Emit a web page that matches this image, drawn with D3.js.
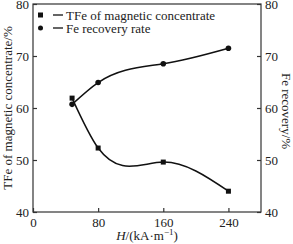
<!DOCTYPE html>
<html>
<head>
  <script src="https://cdnjs.cloudflare.com/ajax/libs/d3/7.8.5/d3.min.js"></script>
  <style>
    body { margin: 0; background: #fff; }
    text { font-family: "Liberation Serif", "DejaVu Serif", serif; }
  </style>
</head>
<body>
  <svg></svg>
  <script>
    // data
    var fields = [48, 80, 160, 240];
    var tfe = [61.9, 52.3, 49.6, 44.0];
    var recovery = [60.7, 64.9, 68.5, 71.5];
    var xTicks = [0, 80, 160, 240];
    var yTicks = [40, 50, 60, 70, 80];

    var W = 293, H = 244, fs = 13;
    var svg = d3.select("svg").attr("width", W).attr("height", H);

    var margin = { top: 4, right: 32, bottom: 32, left: 33 };
    var width = W - margin.left - margin.right;
    var height = H - margin.top - margin.bottom;

    var x = d3.scaleLinear().domain([0, 280]).range([0, width]);
    var yL = d3.scaleLinear().domain([40, 80]).range([height, 0]);
    var yR = d3.scaleLinear().domain([40, 80]).range([height, 0]);

    var g = svg.append("g").attr("transform", "translate(" + margin.left + "," + margin.top + ")");

    // frame
    g.append("rect").attr("width", width).attr("height", height)
      .attr("fill", "none").attr("stroke", "#333").attr("stroke-width", 1.2);

    function styleAxis(sel) {
      sel.select(".domain").remove();
      sel.selectAll("line").attr("stroke", "#333").attr("stroke-width", 1.2);
      sel.selectAll("text").attr("font-size", fs).attr("fill", "#222")
        .style("font-family", "'Liberation Serif', serif");
    }

    g.append("g").attr("transform", "translate(0," + height + ")")
      .call(d3.axisBottom(x).tickValues(xTicks).tickSizeInner(-4).tickSizeOuter(0).tickPadding(6))
      .call(styleAxis);
    g.append("g")
      .call(d3.axisLeft(yL).tickValues(yTicks).tickSizeInner(-4).tickSizeOuter(0).tickPadding(4))
      .call(styleAxis);
    g.append("g").attr("transform", "translate(" + width + ",0)")
      .call(d3.axisRight(yR).tickValues(yTicks).tickSizeInner(-4).tickSizeOuter(0).tickPadding(4))
      .call(styleAxis);

    // natural cubic spline y(x), drawn as one bezier per interval
    function splinePath(xs, ys, sx, sy) {
      var n = xs.length, h = [], M = new Array(n).fill(0);
      for (var i = 0; i < n - 1; i++) h[i] = xs[i + 1] - xs[i];
      var cp = [], rp = [];
      for (var i = 1; i < n - 1; i++) {
        var a = h[i - 1], b = 2 * (h[i - 1] + h[i]), c = h[i];
        var r = 6 * ((ys[i + 1] - ys[i]) / h[i] - (ys[i] - ys[i - 1]) / h[i - 1]);
        var den = b - (i > 1 ? a * cp[i - 1] : 0);
        cp[i] = c / den;
        rp[i] = (r - (i > 1 ? a * rp[i - 1] : 0)) / den;
      }
      for (var i = n - 2; i >= 1; i--) M[i] = rp[i] - cp[i] * (i < n - 2 ? M[i + 1] : 0);
      var p = d3.path();
      p.moveTo(sx(xs[0]), sy(ys[0]));
      for (var i = 0; i < n - 1; i++) {
        var d = (ys[i + 1] - ys[i]) / h[i];
        var s0 = d - h[i] * (2 * M[i] + M[i + 1]) / 6;
        var s1 = d + h[i] * (M[i] + 2 * M[i + 1]) / 6;
        p.bezierCurveTo(
          sx(xs[i] + h[i] / 3), sy(ys[i] + s0 * h[i] / 3),
          sx(xs[i + 1] - h[i] / 3), sy(ys[i + 1] - s1 * h[i] / 3),
          sx(xs[i + 1]), sy(ys[i + 1]));
      }
      return p.toString();
    }

    g.append("path").attr("d", splinePath(fields, tfe, x, yL))
      .attr("fill", "none").attr("stroke", "#111").attr("stroke-width", 1.5);
    g.append("path").attr("d", splinePath(fields, recovery, x, yR))
      .attr("fill", "none").attr("stroke", "#111").attr("stroke-width", 1.5);

    var tfeData = fields.map(function(f, i) { return [f, tfe[i]]; });
    var recData = fields.map(function(f, i) { return [f, recovery[i]]; });

    g.selectAll("rect.pt").data(tfeData).enter().append("rect").attr("class", "pt")
      .attr("x", function(d) { return x(d[0]) - 2.5; })
      .attr("y", function(d) { return yL(d[1]) - 2.5; })
      .attr("width", 5).attr("height", 5).attr("fill", "#111");
    g.selectAll("circle.pt").data(recData).enter().append("circle").attr("class", "pt")
      .attr("cx", function(d) { return x(d[0]); })
      .attr("cy", function(d) { return yR(d[1]); })
      .attr("r", 2.8).attr("fill", "#111");

    // legend
    var leg = g.append("g").attr("transform", "translate(5,11)");
    leg.append("rect").attr("x", 0).attr("y", -2.5).attr("width", 5).attr("height", 5).attr("fill", "#111");
    leg.append("line").attr("x1", 15).attr("x2", 25).attr("y1", 0).attr("y2", 0).attr("stroke", "#111").attr("stroke-width", 1.3);
    leg.append("text").attr("x", 28).attr("y", 4.5).attr("font-size", fs).attr("fill", "#222").text("TFe of magnetic concentrate");
    leg.append("circle").attr("cx", 2.5).attr("cy", 13).attr("r", 2.5).attr("fill", "#111");
    leg.append("line").attr("x1", 15).attr("x2", 25).attr("y1", 13).attr("y2", 13).attr("stroke", "#111").attr("stroke-width", 1.3);
    leg.append("text").attr("x", 28).attr("y", 17.5).attr("font-size", fs).attr("fill", "#222").text("Fe recovery rate");

    // axis titles
    svg.append("text").attr("transform", "translate(12," + (margin.top + height / 2) + ") rotate(-90)")
      .attr("text-anchor", "middle").attr("font-size", fs).attr("fill", "#222")
      .text("TFe of magnetic concentrate/%");
    svg.append("text").attr("transform", "translate(282," + (margin.top + height / 2 + 3) + ") rotate(90)")
      .attr("text-anchor", "middle").attr("font-size", fs).attr("fill", "#222")
      .text("Fe recovery/%");
    var xt = svg.append("text").attr("x", margin.left + width / 2).attr("y", 240)
      .attr("text-anchor", "middle").attr("font-size", fs).attr("fill", "#222");
    xt.append("tspan").attr("font-style", "italic").text("H");
    xt.append("tspan").text("/(kA\u00b7m");
    xt.append("tspan").attr("dy", -5).attr("font-size", 9).text("\u22121");
    xt.append("tspan").attr("dy", 5).text(")");
  </script>
</body>
</html>
